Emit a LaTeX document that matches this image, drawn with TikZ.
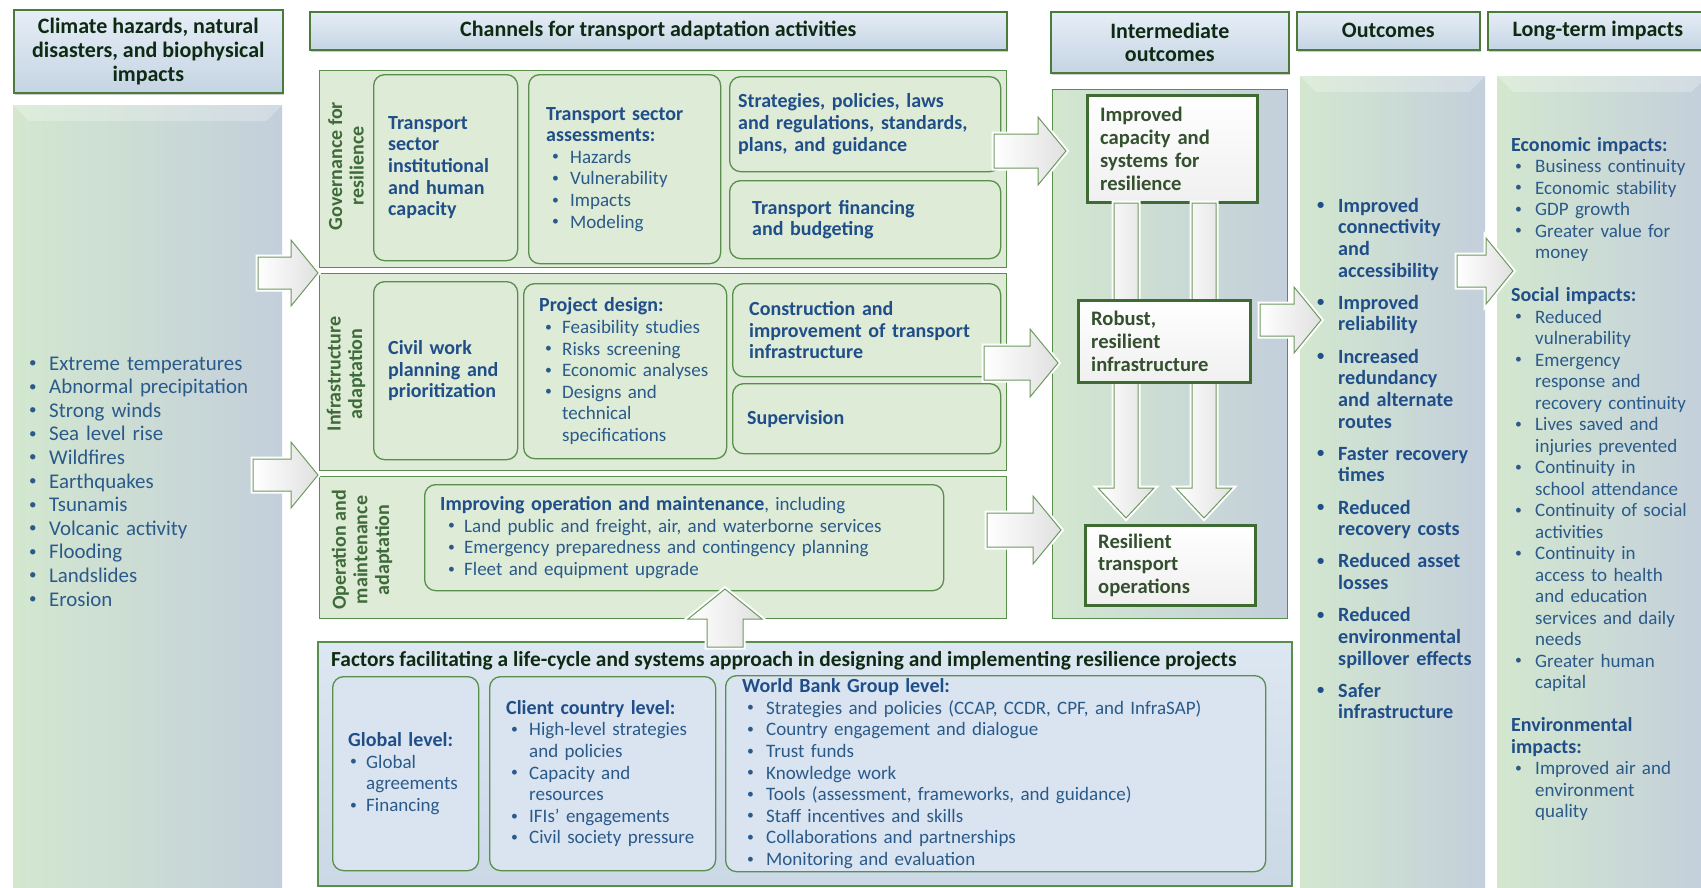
\documentclass[tikz,border=0pt]{standalone}
\usepackage{fontspec}
\usepackage{graphicx}
\setmainfont{Carlito}
\usetikzlibrary{shadows}
\definecolor{hdrtxt}{HTML}{0E2A12}
\definecolor{hdrbd}{HTML}{4A7A3C}
\definecolor{gbd}{HTML}{5A8E4C}
\definecolor{wbd}{HTML}{3E6B32}
\definecolor{abd}{HTML}{6E9A60}
\definecolor{rowfill}{HTML}{DDEBD7}
\definecolor{bluetxt}{HTML}{1F4E89}
\definecolor{bluetxt2}{HTML}{2A5A8A}
\definecolor{hdrtop}{HTML}{E6EEF7}
\definecolor{hdrbot}{HTML}{C5D4E3}
\definecolor{pnlG}{HTML}{D3E7CF}
\definecolor{pnlB}{HTML}{C3CFDB}
\definecolor{factop}{HTML}{DDE7F2}
\definecolor{facbot}{HTML}{CBD8E6}
\definecolor{facin}{HTML}{D9E4F0}
\definecolor{wtxt}{HTML}{34502F}
\definecolor{lbltxt}{HTML}{3F6B3A}
\newlength\bulA \newlength\bulB \newlength\bulC
\newcommand\bset[2]{\setlength\bulA{#1}\setlength\bulB{#2}\setlength\bulC{\dimexpr#2-#1\relax}}
\newcommand\bmark{\hspace*{\bulA}\makebox[\bulC][l]{\raisebox{0.12em}{\scalebox{0.72}{\textbullet}}}}
\newcommand\bi[1]{\par\hangindent=\bulB\hangafter=1\noindent\bmark#1}
\newcommand\bfirst[1]{\hangindent=\bulB\hangafter=1\bmark#1}
\newcommand\nl{\newline}
\newcommand\hd[1]{{\color{bluetxt}\fontsize{20}{21.6}\selectfont\bfseries#1}}
\newcommand\rarr[5]{\draw[barrow, shift={(#1)}] (-#2,-#3) -- (-#5,-#3) -- (-#5,-#4) -- (0,0) -- (-#5,#4) -- (-#5,#3) -- (-#2,#3) -- cycle;}
\newcommand\darr[5]{\draw[barrow, shift={(#1)}] (-#3,-#2) -- (#3,-#2) -- (#3,-#5) -- (#4,-#5) -- (0,0) -- (-#4,-#5) -- (-#3,-#5) -- cycle;}
\newcommand\uarr[5]{\draw[barrow, shift={(#1)}] (-#3,#2) -- (-#3,#5) -- (-#4,#5) -- (0,0) -- (#4,#5) -- (#3,#5) -- (#3,#2) -- cycle;}
\tikzset{
  hdr/.style={anchor=north west, draw=hdrbd, line width=1.6pt, top color=hdrtop, bottom color=hdrbot,
    drop shadow={opacity=0.4,shadow xshift=1.5pt,shadow yshift=-2.5pt}, text=hdrtxt,
    font=\fontsize{22}{23.8}\selectfont\bfseries, align=center, inner sep=0pt},
  pnl/.style={anchor=north west, left color=pnlG, right color=pnlB, inner sep=0pt},
  row/.style={anchor=north west, draw=gbd, line width=1.3pt, fill=rowfill, inner sep=0pt},
  rbox/.style={anchor=north west, draw=gbd, line width=1.3pt, fill=rowfill, rounded corners=11pt, inner sep=0pt},
  fbox/.style={anchor=north west, draw=gbd, line width=1.3pt, fill=facin, rounded corners=11pt, inner sep=0pt},
  wbox/.style={anchor=north west, draw=wbd, line width=2.6pt, top color=white, bottom color=black!6,
    drop shadow={opacity=0.35,shadow xshift=2pt,shadow yshift=-2pt}, inner sep=0pt},
  btxt/.style={anchor=west, inner sep=0pt, text width=330pt, align=left, text=bluetxt, font=\fontsize{20}{21.7}\selectfont\bfseries},
  mtxt/.style={anchor=west, inner sep=0pt, text width=500pt, align=left, text=bluetxt2, font=\fontsize{19}{21.6}\selectfont},
  wtx/.style={anchor=west, inner sep=0pt, text width=200pt, align=left, text=wtxt, font=\fontsize{20.6}{22.8}\selectfont\bfseries},
  rot/.style={rotate=90, align=center, inner sep=0pt, text=lbltxt, font=\fontsize{20}{21.7}\selectfont\bfseries},
  barrow/.style={draw=abd, line width=1pt, left color=white, right color=black!12, preaction={draw=white, line width=5pt}},
}
\begin{document}
\begin{tikzpicture}[x=1pt,y=-1pt]
\useasboundingbox (0,0) rectangle (1701,887);
\fill[white] (0,0) rectangle (1701,887);
% side panels
\node[pnl, minimum width=269pt, minimum height=790pt] (pClim) at (13,105) {};
\node[pnl, minimum width=185pt, minimum height=820pt] (pOut) at (1300,76) {};
\node[pnl, minimum width=210pt, minimum height=820pt] (pLong) at (1497,76) {};
\foreach \n in {pClim,pOut,pLong}{
  \fill[white,opacity=.25] (\n.north west) -- (\n.north east) -- ([xshift=-16pt,yshift=-16pt]\n.north east) -- ([xshift=16pt,yshift=-16pt]\n.north west) -- cycle;
}
% headers
\node[hdr, minimum width=269pt, minimum height=83pt] (hClim) at (13,9) {Climate hazards, natural\\disasters, and biophysical\\impacts};
\node[hdr, minimum width=697pt, minimum height=38pt] (hChan) at (309,11) {Channels for transport adaptation activities};
\node[hdr, minimum width=238pt, minimum height=61pt] (hInt) at (1050,11) {Intermediate\\outcomes};
\node[hdr, minimum width=183pt, minimum height=38pt] (hOut) at (1296,11) {Outcomes};
\node[hdr, minimum width=220pt, minimum height=38pt] (hLong) at (1487,11) {Long-term impacts};
% left list
\node[anchor=base west, inner sep=0pt, text width=250pt, align=left, text=bluetxt2, font=\fontsize{20.9}{23.6}\selectfont] (tClim) at (29,370)
 {\bset{0pt}{20pt}\bfirst{Extreme temperatures}\bi{Abnormal precipitation}\bi{Strong winds}\bi{Sea level rise}\bi{Wildfires}\bi{Earthquakes}\bi{Tsunamis}\bi{Volcanic activity}\bi{Flooding}\bi{Landslides}\bi{Erosion}\par};
% rows
\node[row, minimum width=687pt, minimum height=197pt] (rGov) at (319,70) {};
\node[row, minimum width=687pt, minimum height=197pt] (rInf) at (319,273) {};
\node[row, minimum width=687pt, minimum height=142pt] (rOM) at (319,476) {};
\node[rot] (lGov) at (346,166) {Governance for\\resilience};
\node[rot] (lInf) at (346,374) {Infrastructure\\adaptation};
\node[rot] (lOM) at (362,550) {Operation and\\maintenance\\adaptation};
% governance boxes
\node[rbox, minimum width=144pt, minimum height=186pt] (bInst) at (373,74) {};
\node[rbox, minimum width=192pt, minimum height=189pt] (bAssess) at (528,74) {};
\node[rbox, minimum width=271pt, minimum height=95pt] (bStrat) at (729,76) {};
\node[rbox, minimum width=271pt, minimum height=78pt] (bFin) at (729,180) {};
\node[btxt] (tInst) at ([xshift=15pt]bInst.west) {Transport\\sector\\institutional\\and human\\capacity};
\node[mtxt] (tAssess) at ([xshift=18pt]bAssess.west) {\hd{Transport sector\\assessments:}\bset{6pt}{24pt}\bi{Hazards}\bi{Vulnerability}\bi{Impacts}\bi{Modeling}\par};
\node[btxt] (tStrat) at ([xshift=9pt]bStrat.west) {Strategies, policies, laws\\and regulations, standards,\\plans, and guidance};
\node[btxt] (tFin) at ([xshift=23pt]bFin.west) {Transport financing\\and budgeting};
% infrastructure boxes
\node[rbox, minimum width=144pt, minimum height=178pt] (bCivil) at (373,281) {};
\node[rbox, minimum width=203pt, minimum height=175pt] (bDesign) at (523,283) {};
\node[rbox, minimum width=268pt, minimum height=93pt] (bConstr) at (732,283) {};
\node[rbox, minimum width=268pt, minimum height=70pt] (bSuper) at (732,383) {};
\node[btxt] (tCivil) at ([xshift=15pt]bCivil.west) {Civil work\\planning and\\prioritization};
\node[mtxt] (tDesign) at ([xshift=16pt]bDesign.west) {\hd{Project design:}\bset{6pt}{23pt}\bi{Feasibility studies}\bi{Risks screening}\bi{Economic analyses}\bi{Designs and\nl technical\nl specifications}\par};
\node[btxt] (tConstr) at ([xshift=17pt]bConstr.west) {Construction and\\improvement of transport\\infrastructure};
\node[btxt] (tSuper) at ([xshift=15pt]bSuper.west) {Supervision};
% O&M
\node[rbox, minimum width=519pt, minimum height=106pt] (bOM) at (424,484) {};
\node[mtxt] (tOM) at ([xshift=16pt]bOM.west) {\hd{Improving operation and maintenance}, including\bset{8pt}{24pt}\bi{Land public and freight, air, and waterborne services}\bi{Emergency preparedness and contingency planning}\bi{Fleet and equipment upgrade}\par};
% factors
\node[anchor=north west, draw=gbd, line width=1.6pt, top color=factop, bottom color=facbot, inner sep=0pt, minimum width=974pt, minimum height=244pt] (fBox) at (317,641) {};
\node[anchor=base west, inner sep=0pt, text=hdrtxt, font=\fontsize{21.4}{22}\selectfont\bfseries] (tFac) at (331,666) {Factors facilitating a life-cycle and systems approach in designing and implementing resilience projects};
\node[fbox, minimum width=146pt, minimum height=194pt] (bGlobal) at (332,676) {};
\node[fbox, minimum width=226pt, minimum height=194pt] (bClient) at (489,676) {};
\node[fbox, minimum width=540pt, minimum height=196pt] (bWBG) at (725,675) {};
\node[mtxt] (tGlobal) at ([xshift=16pt]bGlobal.west) {\hd{Global level:}\bset{2pt}{18pt}\bi{Global\nl agreements}\bi{Financing}\par};
\node[mtxt] (tClient) at ([xshift=17pt]bClient.west) {\hd{Client country level:}\bset{5pt}{23pt}\bi{High-level strategies\nl and policies}\bi{Capacity and\nl resources}\bi{IFIs’ engagements}\bi{Civil society pressure}\par};
\node[mtxt] (tWBG) at ([xshift=17pt]bWBG.west) {\hd{World Bank Group level:}\bset{5pt}{24pt}\bi{Strategies and policies (CCAP, CCDR, CPF, and InfraSAP)}\bi{Country engagement and dialogue}\bi{Trust funds}\bi{Knowledge work}\bi{Tools (assessment, frameworks, and guidance)}\bi{Staff incentives and skills}\bi{Collaborations and partnerships}\bi{Monitoring and evaluation}\par};
% intermediate outcomes
\node[pnl, draw=gbd, line width=1.3pt, minimum width=235pt, minimum height=529pt] (pInt) at (1052,89) {};
\node[wbox, minimum width=170pt, minimum height=107pt] (wCap) at (1086,94) {};
\coordinate (dA) at (1126,518);
\coordinate (dB) at (1204,518);
\darr{dA}{315}{12}{28}{30}
\darr{dB}{315}{12}{28}{30}
\node[wbox, minimum width=172pt, minimum height=82pt] (wRob) at (1077,299) {};
\node[wbox, minimum width=170pt, minimum height=80pt] (wOps) at (1084,524) {};
\node[wtx] (tCap) at ([xshift=14pt]wCap.west) {Improved\\capacity and\\systems for\\resilience};
\node[wtx] (tRob) at ([xshift=14pt]wRob.west) {Robust,\\resilient\\infrastructure};
\node[wtx] (tOps) at ([xshift=14pt]wOps.west) {Resilient\\transport\\operations};
% outcomes list
\node[anchor=base west, inner sep=0pt, text width=175pt, align=left, text=bluetxt, font=\fontsize{20.2}{21.7}\selectfont\bfseries] (tOut) at (1317,212)
 {\bset{0pt}{21pt}\bfirst{Improved\nl connectivity\nl and\nl accessibility}%
  \par\vspace{10.4pt}\bi{Improved\nl reliability}%
  \par\vspace{10.4pt}\bi{Increased\nl redundancy\nl and alternate\nl routes}%
  \par\vspace{10.4pt}\bi{Faster recovery\nl times}%
  \par\vspace{10.4pt}\bi{Reduced\nl recovery costs}%
  \par\vspace{10.4pt}\bi{Reduced asset\nl losses}%
  \par\vspace{10.4pt}\bi{Reduced\nl environmental\nl spillover effects}%
  \par\vspace{10.4pt}\bi{Safer\nl infrastructure}\par};
% long-term list
\node[anchor=base west, inner sep=0pt, text width=190pt, align=left, text=bluetxt2, font=\fontsize{19}{21.5}\selectfont] (tLong) at (1511,151)
 {\hd{Economic impacts:}\bset{4pt}{24pt}\bi{Business continuity}\bi{Economic stability}\bi{GDP growth}\bi{Greater value for\nl money}%
  \par\vspace{21.5pt}\noindent\hd{Social impacts:}\bi{Reduced\nl vulnerability}\bi{Emergency\nl response and\nl recovery continuity}\bi{Lives saved and\nl injuries prevented}\bi{Continuity in\nl school attendance}\bi{Continuity of social\nl activities}\bi{Continuity in\nl access to health\nl and education\nl services and daily\nl needs}\bi{Greater human\nl capital}%
  \par\vspace{21.5pt}\noindent\hd{Environmental\nl impacts:}\bi{Improved air and\nl environment\nl quality}\par};
% block arrows
\coordinate (aL1) at (318,273);
\coordinate (aL2) at (318,475);
\coordinate (aGov) at (1066,151);
\coordinate (aInf) at (1058,363);
\coordinate (aOM) at (1061,530);
\coordinate (aInt) at (1321,320);
\coordinate (aOut) at (1513,271);
\coordinate (aUp) at (725,589);
\rarr{aL1}{60}{16}{33}{27}
\rarr{aL2}{65}{16}{33}{27}
\rarr{aGov}{72}{17}{34}{28}
\rarr{aInf}{74}{17}{34}{28}
\rarr{aOM}{74}{17}{34}{28}
\rarr{aInt}{61}{16}{33}{27}
\rarr{aOut}{56}{16}{33}{27}
\uarr{aUp}{58}{18}{37}{30}
\end{tikzpicture}
\end{document}
